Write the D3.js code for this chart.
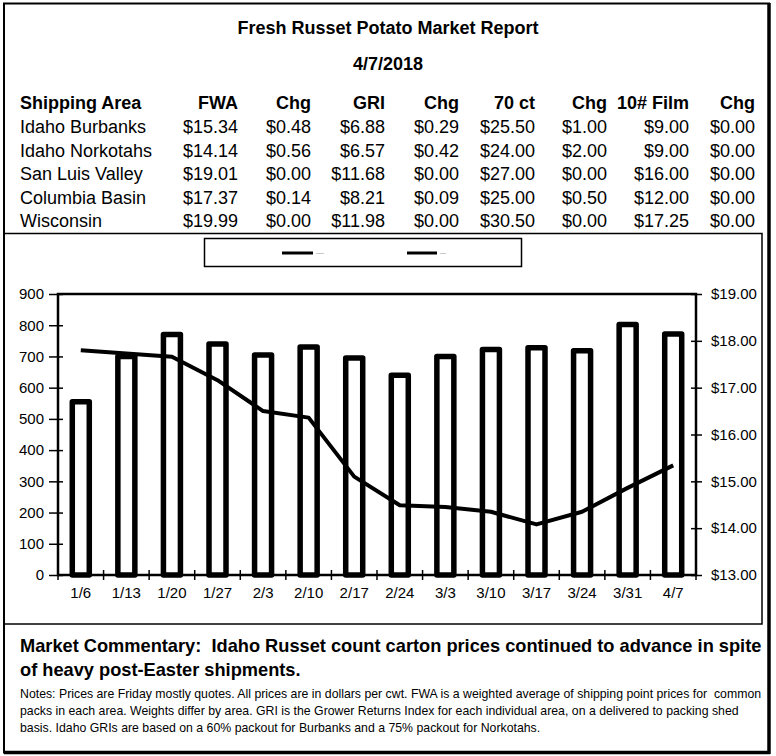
<!DOCTYPE html>
<html><head><meta charset="utf-8">
<script src="https://cdn.jsdelivr.net/npm/d3@7"></script>
<style>
html,body{margin:0;padding:0;background:#fff;}
svg{display:block;font-family:"Liberation Sans",Arial,sans-serif;}
text.pre{white-space:pre;}
</style></head>
<body>
<svg id="chart" width="776" height="756"></svg>
<script>
// ---------- data ----------
const title = "Fresh Russet Potato Market Report";
const reportDate = "4/7/2018";
const tableHeaders = ["Shipping Area","FWA","Chg","GRI","Chg","70 ct","Chg","10# Film","Chg"];
const areas = ["Idaho Burbanks","Idaho Norkotahs","San Luis Valley","Columbia Basin","Wisconsin"];
const fwa    = ["$15.34","$14.14","$19.01","$17.37","$19.99"];
const fwaChg = ["$0.48","$0.56","$0.00","$0.14","$0.00"];
const gri    = ["$6.88","$6.57","$11.68","$8.21","$11.98"];
const griChg = ["$0.29","$0.42","$0.00","$0.09","$0.00"];
const ct70   = ["$25.50","$24.00","$27.00","$25.00","$30.50"];
const ct70Chg= ["$1.00","$2.00","$0.00","$0.50","$0.00"];
const film10 = ["$9.00","$9.00","$16.00","$12.00","$17.25"];
const film10Chg = ["$0.00","$0.00","$0.00","$0.00","$0.00"];

const weeks = ["1/6","1/13","1/20","1/27","2/3","2/10","2/17","2/24","3/3","3/10","3/17","3/24","3/31","4/7"];
const shipments = [555, 700, 770, 740, 705, 730, 695, 640, 700, 722, 728, 718, 802, 772];
const prices = [17.80, 17.73, 17.66, 17.16, 16.50, 16.36, 15.10, 14.49, 14.45, 14.35, 14.08, 14.35, 14.86, 15.34];
const leftTicks = [0,100,200,300,400,500,600,700,800,900];
const rightTicks = [13,14,15,16,17,18,19];
const legendLabels = ["----","---"];

const commentary = ["Market Commentary:  Idaho Russet count carton prices continued to advance in spite",
                    "of heavy post-Easter shipments."];
const notes = ["Notes: Prices are Friday mostly quotes. All prices are in dollars per cwt. FWA is a weighted average of shipping point prices for  common",
               "packs in each area. Weights differ by area. GRI is the Grower Returns Index for each individual area, on a delivered to packing shed",
               "basis. Idaho GRIs are based on a 60% packout for Burbanks and a 75% packout for Norkotahs."];

// ---------- drawing ----------
const svg = d3.select("#chart");

// outer frame
svg.append("rect").attr("x",4).attr("y",3.5).attr("width",765).attr("height",749)
  .attr("fill","none").attr("stroke","#000").attr("stroke-width",2);
svg.append("line").attr("x1",769).attr("x2",769).attr("y1",3).attr("y2",754).attr("stroke","#000").attr("stroke-width",3.5);
svg.append("line").attr("x1",4).attr("x2",770).attr("y1",752.5).attr("y2",752.5).attr("stroke","#000").attr("stroke-width",3.5);

// title
svg.append("text").attr("x",388).attr("y",34).attr("text-anchor","middle")
  .attr("font-size",18).attr("font-weight","bold").text(title);
svg.append("text").attr("x",388).attr("y",70).attr("text-anchor","middle")
  .attr("font-size",18).attr("font-weight","bold").text(reportDate);

// table
const colRight = [null,238,311,385,459,535,607,689,755];
const headerY = 109, rowY0 = 133, rowStep = 23.6;
tableHeaders.forEach((h,i)=>{
  svg.append("text").attr("x", i===0?20:colRight[i]).attr("y",headerY)
    .attr("text-anchor", i===0?"start":"end")
    .attr("font-size",18).attr("font-weight","bold").text(h);
});
const cols = [areas,fwa,fwaChg,gri,griChg,ct70,ct70Chg,film10,film10Chg];
areas.forEach((a,r)=>{
  cols.forEach((c,i)=>{
    svg.append("text").attr("x", i===0?20:colRight[i]).attr("y",rowY0+r*rowStep)
      .attr("text-anchor", i===0?"start":"end")
      .attr("font-size",18).text(c[r]);
  });
});

// chart box
svg.append("rect").attr("x",4).attr("y",233.5).attr("width",758).attr("height",390.5)
  .attr("fill","none").attr("stroke","#000").attr("stroke-width",1.5);

// legend
svg.append("rect").attr("x",204.5).attr("y",238.5).attr("width",317).attr("height",28)
  .attr("fill","#fff").attr("stroke","#000").attr("stroke-width",1.5);
const legItems = [{x:282,w:31},{x:407,w:30}];
legItems.forEach((it,i)=>{
  svg.append("line").attr("x1",it.x).attr("x2",it.x+it.w).attr("y1",253).attr("y2",253)
    .attr("stroke","#000").attr("stroke-width",3);
  svg.append("text").attr("x",it.x+it.w+3).attr("y",255).attr("font-size",6)
    .attr("fill","#555").text(legendLabels[i]);
});

// plot
const plot = {l:58, r:696, t:294, b:575};
const xStep = d3.scaleBand().domain(weeks).range([plot.l, plot.r]);
const yL = d3.scaleLinear().domain([0,900]).range([plot.b, plot.t]);
const yR = d3.scaleLinear().domain([13,19]).range([plot.b, plot.t]);

// bars
svg.append("g").selectAll("rect").data(weeks).join("rect")
  .attr("x", d=>xStep(d)+xStep.bandwidth()/2 - 8.5)
  .attr("width", 17)
  .attr("y", (d,i)=>yL(shipments[i]))
  .attr("height", (d,i)=>yL(0)-yL(shipments[i]))
  .attr("fill","#fff").attr("stroke","#000").attr("stroke-width",5.5)
  .attr("stroke-linejoin","round");

// plot frame
svg.append("rect").attr("x",plot.l).attr("y",plot.t).attr("width",plot.r-plot.l).attr("height",plot.b-plot.t)
  .attr("fill","none").attr("stroke","#000").attr("stroke-width",2.5);

// line
const line = d3.line().x((d,i)=>xStep(weeks[i])+xStep.bandwidth()/2).y(d=>yR(d));
svg.append("path").datum(prices).attr("d",line).attr("fill","none")
  .attr("stroke","#000").attr("stroke-width",4).attr("stroke-linejoin","round");

// left axis
const gL = svg.append("g").attr("transform",`translate(${plot.l},0)`)
  .call(d3.axisLeft(yL).tickValues(leftTicks).tickSize(9).tickPadding(5).tickFormat(d3.format("d")));
gL.select(".domain").remove();
gL.selectAll(".tick line").attr("x2",5).attr("x1",-9).attr("stroke-width",1.5);
gL.selectAll(".tick text").attr("font-size",15).attr("font-family","Liberation Sans, Arial, sans-serif").attr("fill","#000");

// right axis
const gR = svg.append("g").attr("transform",`translate(${plot.r},0)`)
  .call(d3.axisRight(yR).tickValues(rightTicks).tickSize(6).tickPadding(9).tickFormat(d=>"$"+d3.format(".2f")(d)));
gR.select(".domain").remove();
gR.selectAll(".tick line").attr("x1",-5).attr("x2",6).attr("stroke-width",1.5);
gR.selectAll(".tick text").attr("font-size",15).attr("font-family","Liberation Sans, Arial, sans-serif").attr("fill","#000");

// bottom axis: tick marks at boundaries
const bounds = weeks.map(w=>xStep(w)).concat([plot.r]);
svg.append("g").selectAll("line").data(bounds).join("line")
  .attr("x1",d=>d).attr("x2",d=>d).attr("y1",plot.b-5).attr("y2",plot.b+5)
  .attr("stroke","#000").attr("stroke-width",1.5);
const gB = svg.append("g").attr("transform",`translate(0,${plot.b})`)
  .call(d3.axisBottom(xStep).tickSize(0).tickPadding(12));
gB.select(".domain").remove();
gB.selectAll(".tick text").attr("font-size",15).attr("font-family","Liberation Sans, Arial, sans-serif").attr("fill","#000");

// commentary + notes (horizontally condensed to match the reference)
const c1 = svg.append("text").attr("class","pre").attr("font-size",19).attr("font-weight","bold").text(commentary[0]);
const ratio = 742 / c1.node().getComputedTextLength();
c1.attr("transform",`translate(20,652) scale(${ratio},1)`);
svg.append("text").attr("class","pre").attr("font-size",19).attr("font-weight","bold").text(commentary[1])
  .attr("transform",`translate(20,676) scale(${ratio},1)`);

const noteY = [698,715,732];
let nRatio = null;
notes.forEach((n,i)=>{
  const t = svg.append("text").attr("class","pre").attr("font-size",12.5).text(n);
  const L = t.node().getComputedTextLength();
  if(i===0) nRatio = 742/L;
  t.attr("transform",`translate(20,${noteY[i]}) scale(${nRatio},1)`);
});
</script>
</body></html>
